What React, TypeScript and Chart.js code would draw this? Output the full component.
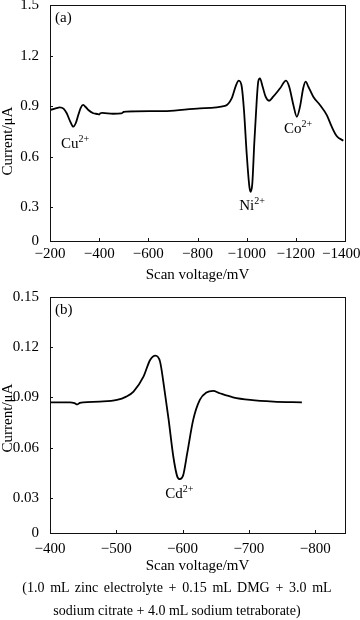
import React, { useEffect, useRef } from 'react';
import { Chart, registerables } from 'chart.js';

Chart.register(...registerables);

// ---------- data (a) : multi-metal scan ----------
const voltageA = [
  -200, -220, -240, -255, -268, -282, -295, -305, -315, -325, -335, -345, -356, -376, -395, -400,
  -405, -412, -456, -490, -500, -510, -676, -810, -912, -939, -957, -968, -980, -989, -1000,
  -1011, -1016, -1023, -1031, -1041, -1047, -1054, -1065, -1077, -1091, -1108, -1136, -1160,
  -1173, -1190, -1204, -1217, -1230, -1240, -1251, -1271, -1298, -1326, -1346, -1366, -1393,
];
const currentA = [
  0.877, 0.885, 0.893, 0.885, 0.858, 0.81, 0.778, 0.8, 0.847, 0.89, 0.907, 0.895, 0.877, 0.858, 0.853, 0.85,
  0.858, 0.86, 0.855, 0.857, 0.866, 0.868, 0.871, 0.887, 0.901, 0.946, 1.025, 1.051, 1.015, 0.877, 0.62,
  0.422, 0.392, 0.442, 0.68, 0.936, 1.045, 1.065, 1.015, 0.956, 0.932, 0.956, 1.006, 1.051,
  1.015, 0.907, 0.837, 0.897, 1.006, 1.045, 1.015, 0.956, 0.907, 0.847, 0.778, 0.723, 0.695,
];
const xTicksA = [-200, -400, -600, -800, -1000, -1200, -1400];
const xTickLabelsA = ['\u2212200', '\u2212400', '\u2212600', '\u2212800', '\u22121000', '\u22121200', '\u22121400'];
const yTicksA = [0.1, 0.3, 0.6, 0.9, 1.2, 1.5];
const yTickLabelsA = ['0', '0.3', '0.6', '0.9', '1.2', '1.5'];
const ionNamesA = ['Cu', 'Ni', 'Co'];
const ionChargesA = ['2+', '2+', '2+'];

// ---------- data (b) : cadmium scan ----------
const voltageB = [
  -400, -430, -437, -441, -445, -450, -475, -501, -515, -526, -541, -551, -559, -566, -572, -579,
  -586, -592, -596, -601, -607, -616, -626, -636, -646, -656, -676, -702, -737, -780,
];
const currentB = [
  0.0871, 0.0871, 0.0866, 0.0858, 0.0867, 0.0871, 0.0875, 0.0885, 0.0905, 0.0935, 0.1024, 0.1124,
  0.115, 0.1114, 0.0965, 0.0766, 0.0547, 0.0427, 0.0412, 0.0437, 0.0567, 0.0766, 0.0885, 0.0929,
  0.0939, 0.0925, 0.0901, 0.0885, 0.0875, 0.0871,
];
const xTicksB = [-400, -500, -600, -700, -800];
const xTickLabelsB = ['\u2212400', '\u2212500', '\u2212600', '\u2212700', '\u2212800'];
const yTicksB = [0.009, 0.03, 0.06, 0.09, 0.12, 0.15];
const yTickLabelsB = ['0', '0.03', '0.06', '0.09', '0.12', '0.15'];
const ionNamesB = ['Cd'];
const ionChargesB = ['2+'];

const FONT = "'Liberation Serif', 'Times New Roman', serif";

const overlayPlugin = {
  id: 'overlay',
  afterDraw(chart: any, _args: any, opts: any) {
    const { ctx, chartArea: a, scales } = chart;
    const xs = scales.x;
    const ys = scales.y;
    ctx.save();
    // frame
    ctx.strokeStyle = '#111';
    ctx.lineWidth = 1;
    ctx.strokeRect(a.left + 0.5, a.top + 0.5, a.right - a.left, a.bottom - a.top);
    // inward ticks
    ctx.beginPath();
    xs.ticks.forEach((t: any) => {
      const px = Math.round(xs.getPixelForValue(t.value)) + 0.5;
      if (px <= a.left + 2 || px >= a.right - 2) return;
      ctx.moveTo(px, a.bottom);
      ctx.lineTo(px, a.bottom - 3);
    });
    ys.ticks.forEach((t: any) => {
      const py = Math.round(ys.getPixelForValue(t.value)) + 0.5;
      if (py <= a.top + 2 || py >= a.bottom - 2) return;
      ctx.moveTo(a.left, py);
      ctx.lineTo(a.left + 3, py);
    });
    ctx.stroke();

    ctx.fillStyle = '#000';
    // panel label
    ctx.font = `15px ${FONT}`;
    ctx.textAlign = 'left';
    ctx.textBaseline = 'alphabetic';
    ctx.fillText(opts.panel, a.left + 5, a.top + 17);

    // ion labels
    (opts.ions || []).forEach((ion: any) => {
      const px = xs.getPixelForValue(ion.v);
      const py = ys.getPixelForValue(ion.i);
      ctx.font = `15px ${FONT}`;
      const wb = ctx.measureText(ion.name).width;
      ctx.font = `10px ${FONT}`;
      const ws = ctx.measureText(ion.charge).width;
      const x0 = px - (wb + ws) / 2;
      ctx.font = `15px ${FONT}`;
      ctx.textAlign = 'left';
      ctx.fillText(ion.name, x0, py);
      ctx.font = `10px ${FONT}`;
      ctx.fillText(ion.charge, x0 + wb, py - 6);
    });

    // y title
    ctx.font = `15px ${FONT}`;
    ctx.textAlign = 'center';
    ctx.textBaseline = 'middle';
    ctx.translate(opts.yTitleX, opts.yTitleY);
    ctx.rotate(-Math.PI / 2);
    ctx.fillText('Current/\u03bcA', 0, 0);
    ctx.restore();
  },
};

function buildConfig(p: any) {
  return {
    type: 'line',
    data: {
      datasets: [
        {
          data: p.xs.map((v: number, i: number) => ({ x: v, y: p.ys[i] })),
          borderColor: '#000',
          borderWidth: 1.8,
          pointRadius: 0,
          cubicInterpolationMode: 'monotone',
          fill: false,
        },
      ],
    },
    options: {
      animation: false,
      responsive: false,
      maintainAspectRatio: false,
      layout: { padding: { top: p.padTop, right: 15, bottom: p.padBottom, left: 0 } },
      plugins: {
        legend: { display: false },
        tooltip: { enabled: false },
        overlay: { panel: p.panel, ions: p.ions, yTitleX: 8, yTitleY: p.yTitleY },
      },
      scales: {
        x: {
          type: 'linear',
          reverse: true,
          min: p.xMin,
          max: p.xMax,
          grid: { display: false },
          border: { display: false },
          afterBuildTicks: (s: any) => {
            s.ticks = p.xTicks.map((v: number) => ({ value: v }));
          },
          ticks: {
            color: '#000',
            font: { size: 15, family: FONT },
            padding: p.xTickPad,
            maxRotation: 0,
            autoSkip: false,
            callback: (v: number) => {
              const label = p.xLabels[p.xTicks.indexOf(v)];
              // keep the right-edge label inside the canvas
              return v === p.xMin ? label + '\u2002' : label;
            },
          },
          title: {
            display: true,
            text: 'Scan voltage/mV',
            color: '#000',
            font: { size: 15, family: FONT },
            padding: 0,
          },
          afterFit: (s: any) => {
            s.height = p.xHeight;
            s.paddingLeft = 0;
            s.paddingRight = 0;
          },
        },
        y: {
          type: 'linear',
          min: p.yTicks[0],
          max: p.yTicks[p.yTicks.length - 1],
          grid: { display: false },
          border: { display: false },
          afterBuildTicks: (s: any) => {
            s.ticks = p.yTicks.map((v: number) => ({ value: v }));
          },
          ticks: {
            color: '#000',
            font: { size: 15, family: FONT },
            padding: 3,
            autoSkip: false,
            callback: (v: number) => p.yLabels[p.yTicks.indexOf(v)],
          },
          afterFit: (s: any) => {
            s.width = 50;
            s.paddingTop = 0;
            s.paddingBottom = 0;
          },
        },
      },
    },
    plugins: [overlayPlugin],
  } as any;
}

export default function App() {
  const refA = useRef<HTMLCanvasElement>(null);
  const refB = useRef<HTMLCanvasElement>(null);

  useEffect(() => {
    const chartA = new Chart(
      refA.current as HTMLCanvasElement,
      buildConfig({
        xs: voltageA,
        ys: currentA,
        xMin: -1400,
        xMax: -200,
        xTicks: xTicksA,
        xLabels: xTickLabelsA,
        yTicks: yTicksA,
        yLabels: yTickLabelsA,
        padTop: 5,
        padBottom: 6,
        xHeight: 43,
        xTickPad: -4,
        panel: '(a)',
        yTitleY: 141,
        ions: [
          { name: ionNamesA[0], charge: ionChargesA[0], v: -302, i: 0.652 },
          { name: ionNamesA[1], charge: ionChargesA[1], v: -1022, i: 0.284 },
          { name: ionNamesA[2], charge: ionChargesA[2], v: -1209, i: 0.741 },
        ],
      })
    );
    const chartB = new Chart(
      refB.current as HTMLCanvasElement,
      buildConfig({
        xs: voltageB,
        ys: currentB,
        xMin: -845,
        xMax: -400,
        xTicks: xTicksB,
        xLabels: xTickLabelsB,
        yTicks: yTicksB,
        yLabels: yTickLabelsB,
        padTop: 7,
        padBottom: 5,
        xHeight: 42,
        xTickPad: -1,
        panel: '(b)',
        yTitleY: 128,
        ions: [{ name: ionNamesB[0], charge: ionChargesB[0], v: -595, i: 0.03 }],
      })
    );
    return () => {
      chartA.destroy();
      chartB.destroy();
    };
  }, []);

  const captionStyle = {
    position: 'absolute' as const,
    left: -3,
    width: 360,
    textAlign: 'center' as const,
    fontFamily: FONT,
    fontSize: 14,
    lineHeight: '23px',
    color: '#000',
    whiteSpace: 'nowrap' as const,
  };

  return (
    <div style={{ position: 'absolute', left: 0, top: 0, width: 360, height: 620, background: '#fff' }}>
      <canvas ref={refA} width={360} height={290} style={{ position: 'absolute', left: 0, top: 0 }} />
      <canvas ref={refB} width={360} height={290} style={{ position: 'absolute', left: 0, top: 290 }} />
      <div style={{ ...captionStyle, top: 576, wordSpacing: '2.2px' }}>
        (1.0 mL zinc electrolyte + 0.15 mL DMG + 3.0 mL
      </div>
      <div style={{ ...captionStyle, top: 599 }}>sodium citrate + 4.0 mL sodium tetraborate)</div>
    </div>
  );
}
